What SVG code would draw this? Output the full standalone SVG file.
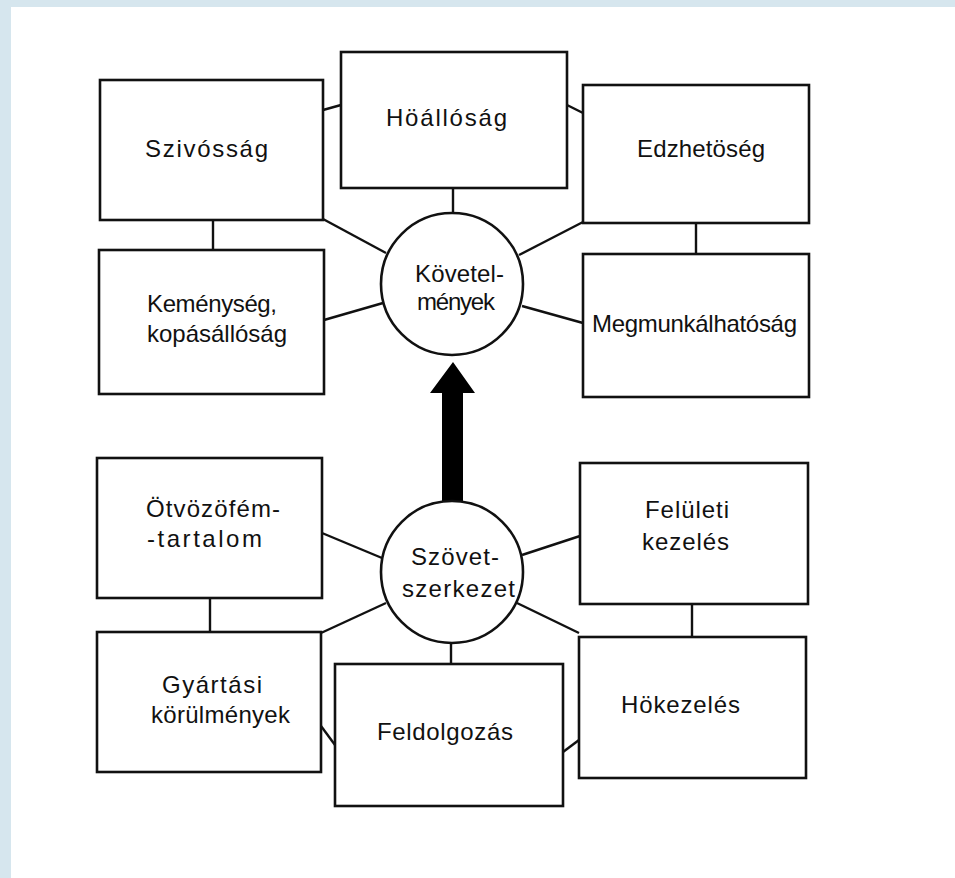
<svg xmlns="http://www.w3.org/2000/svg" width="955" height="878" viewBox="0 0 955 878">
<defs>
<style>
.box{fill:#fff;stroke:#111;stroke-width:2.6}
.circ{fill:#fff;stroke:#111;stroke-width:2.6}
.ln{stroke:#111;stroke-width:2.4;fill:none}
.t{font-family:"Liberation Sans","DejaVu Sans",sans-serif;font-size:24px;fill:#111}
</style>
</defs>
<rect x="0" y="0" width="955" height="878" fill="#d6e6ee"/>
<rect x="11" y="7" width="944" height="871" fill="#fff"/>
<g id="connectors">
<line class="ln" x1="213" y1="220" x2="213" y2="250"/>
<line class="ln" x1="323" y1="110" x2="341" y2="105"/>
<line class="ln" x1="323" y1="219" x2="386" y2="253"/>
<line class="ln" x1="324" y1="320" x2="383" y2="303"/>
<line class="ln" x1="453" y1="188" x2="453" y2="213"/>
<line class="ln" x1="567" y1="105" x2="583" y2="113"/>
<line class="ln" x1="583" y1="222" x2="519" y2="255"/>
<line class="ln" x1="583" y1="323" x2="522" y2="306"/>
<line class="ln" x1="696" y1="223" x2="696" y2="254"/>
<line class="ln" x1="322" y1="533" x2="382" y2="558"/>
<line class="ln" x1="321" y1="633" x2="386" y2="603"/>
<line class="ln" x1="210" y1="598" x2="210" y2="632"/>
<line class="ln" x1="321" y1="726" x2="335" y2="745"/>
<line class="ln" x1="451" y1="643" x2="451" y2="664"/>
<line class="ln" x1="522" y1="555" x2="580" y2="536"/>
<line class="ln" x1="517" y1="603" x2="579" y2="633"/>
<line class="ln" x1="692" y1="604" x2="692" y2="637"/>
<line class="ln" x1="563" y1="752" x2="579" y2="740"/>
<path d="M442,503 L442,393 L430,393 L453,362 L475,393 L463,393 L463,503 Z" fill="#000"/>
</g>
<g id="kovetelmenyek">
<circle class="circ" cx="452" cy="284" r="71"/>
<text class="t" x="415" y="282" textLength="89" lengthAdjust="spacing">Követel-</text>
<text class="t" x="417" y="310" textLength="78" lengthAdjust="spacing">mények</text>
</g>
<g id="szivossag">
<rect class="box" x="100" y="80" width="223" height="140"/>
<text class="t" x="145" y="157" textLength="123" lengthAdjust="spacing">Szivósság</text>
</g>
<g id="hoallosag">
<rect class="box" x="341" y="52" width="226" height="136"/>
<text class="t" x="386" y="126" textLength="121" lengthAdjust="spacing">Höállóság</text>
</g>
<g id="edzhetoseg">
<rect class="box" x="583" y="85" width="226" height="138"/>
<text class="t" x="637" y="157" textLength="128" lengthAdjust="spacing">Edzhetöség</text>
</g>
<g id="kemenyseg">
<rect class="box" x="99" y="250" width="225" height="144"/>
<text class="t" x="147" y="312" textLength="130" lengthAdjust="spacing">Keménység,</text>
<text class="t" x="147" y="342" textLength="140" lengthAdjust="spacing">kopásállóság</text>
</g>
<g id="megmunkalhatosag">
<rect class="box" x="583" y="254" width="226" height="143"/>
<text class="t" x="592" y="332" textLength="205" lengthAdjust="spacing">Megmunkálhatóság</text>
</g>
<g id="szovetszerkezet">
<circle class="circ" cx="452" cy="572" r="71"/>
<text class="t" x="411" y="565" textLength="88" lengthAdjust="spacing">Szövet-</text>
<text class="t" x="402" y="597" textLength="113" lengthAdjust="spacing">szerkezet</text>
</g>
<g id="otvozofem">
<rect class="box" x="97" y="458" width="225" height="140"/>
<text class="t" x="146" y="517" textLength="134" lengthAdjust="spacing">Ötvözöfém-</text>
<text class="t" x="147" y="547" textLength="115" lengthAdjust="spacing">-tartalom</text>
</g>
<g id="gyartasi">
<rect class="box" x="97" y="632" width="224" height="140"/>
<text class="t" x="162" y="693" textLength="100" lengthAdjust="spacing">Gyártási</text>
<text class="t" x="151" y="723" textLength="139" lengthAdjust="spacing">körülmények</text>
</g>
<g id="feldolgozas">
<rect class="box" x="335" y="664" width="228" height="142"/>
<text class="t" x="377" y="740" textLength="136" lengthAdjust="spacing">Feldolgozás</text>
</g>
<g id="feluleti">
<rect class="box" x="580" y="463" width="228" height="141"/>
<text class="t" x="645" y="518" textLength="84" lengthAdjust="spacing">Felületi</text>
<text class="t" x="642" y="550" textLength="87" lengthAdjust="spacing">kezelés</text>
</g>
<g id="hokezeles">
<rect class="box" x="579" y="637" width="227" height="141"/>
<text class="t" x="621" y="713" textLength="119" lengthAdjust="spacing">Hökezelés</text>
</g>
</svg>
